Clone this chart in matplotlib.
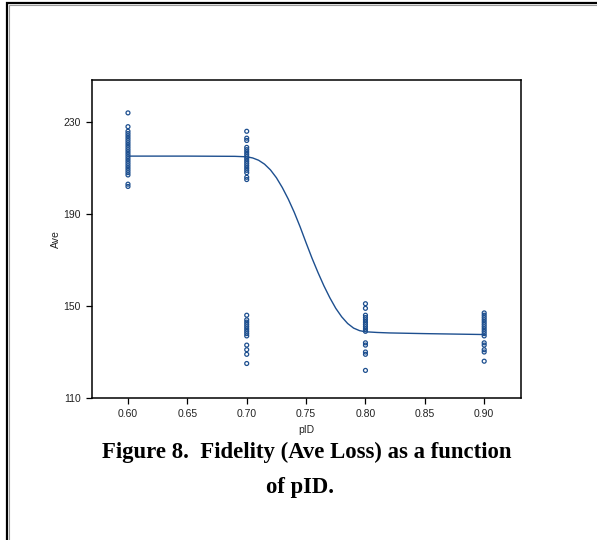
import matplotlib
matplotlib.use("Agg")
import matplotlib.pyplot as plt
from matplotlib.patches import Rectangle

# observed Ave loss at each pID level
pid_060 = [234, 228, 226, 225, 224, 223, 222, 221, 220, 219, 218, 217, 216,
           215, 214, 213, 212, 211, 210, 209, 208, 207, 203, 202]
pid_070 = [226, 223, 222, 219, 218, 217, 216, 215, 214, 213, 212, 211, 210,
           209, 208, 206, 205,
           146, 144, 143, 142, 141, 140, 139, 138, 137, 133, 131, 129, 125]
pid_080 = [151, 149, 146, 145, 144, 143, 142, 141, 140, 139, 134, 133, 130,
           129, 122]
pid_090 = [147, 146, 145, 144, 143, 142, 141, 140, 139, 138, 137, 134, 133,
           131, 130, 126]

# fitted curve
fit_x = [0.60, 0.65, 0.69, 0.70, 0.705, 0.71, 0.715, 0.72, 0.725, 0.73,
         0.735, 0.74, 0.745, 0.75, 0.755, 0.76, 0.765, 0.77, 0.775, 0.78,
         0.785, 0.79, 0.795, 0.80, 0.81, 0.82, 0.85, 0.90]
fit_y = [215.2, 215.2, 215.1, 214.9, 214.4, 213.4, 211.7, 209.2, 205.8, 201.5,
         196.5, 190.8, 184.4, 177.5, 170.8, 164.6, 158.8, 153.6, 149.0, 145.3,
         142.4, 140.4, 139.3, 138.8, 138.5, 138.3, 138.0, 137.6]

x_ticks = [0.60, 0.65, 0.70, 0.75, 0.80, 0.85, 0.90]
y_ticks = [110, 150, 190, 230]

blue = "#1d4f8f"

plt.rcParams['font.family'] = ['Liberation Sans', 'DejaVu Sans']

fig = plt.figure(figsize=(5.97, 5.40), dpi=100)

# page frame (double line)
fig.patches.append(Rectangle((7 / 597, -0.05), 1.1, 1.05 - 3 / 540,
                             transform=fig.transFigure, fill=False,
                             edgecolor="black", linewidth=1.6))
fig.patches.append(Rectangle((9 / 597, -0.05), 1.1, 1.05 - 5 / 540,
                             transform=fig.transFigure, fill=False,
                             edgecolor="#9a9a9a", linewidth=0.8))

ax = fig.add_axes([92 / 597, 1 - 398 / 540, 429 / 597, 318 / 540])

for xv, ys in [(0.60, pid_060), (0.70, pid_070), (0.80, pid_080), (0.90, pid_090)]:
    ax.scatter([xv] * len(ys), ys, s=8, facecolors="none", edgecolors=blue,
               linewidths=0.9, zorder=3)

ax.plot(fit_x, fit_y, color=blue, linewidth=1.0, zorder=2)

ax.set_xlim(0.5697, 0.931)
ax.set_ylim(110, 248.3)
ax.set_xticks(x_ticks)
ax.set_xticklabels(["%.2f" % v for v in x_ticks])
ax.set_yticks(y_ticks)
ax.tick_params(direction="out", length=4, width=0.9, labelsize=7.5, pad=4,
               labelcolor="#222222")
for s in ax.spines.values():
    s.set_linewidth(1.1)

ax.set_xlabel("pID", fontsize=7.5, labelpad=4, color="#222222")
ax.set_ylabel("Ave", fontsize=7.5, labelpad=2, color="#222222")

fig.text(0.513, 1 - 452 / 540, "Figure 8.  Fidelity (Ave Loss) as a function",
         ha="center", va="center", fontsize=16.4, fontweight="bold",
         family="Liberation Serif")
fig.text(0.503, 1 - 488 / 540, "of pID.", ha="center", va="center",
         fontsize=16.4, fontweight="bold", family="Liberation Serif")

fig.savefig("out.png", dpi=100)
